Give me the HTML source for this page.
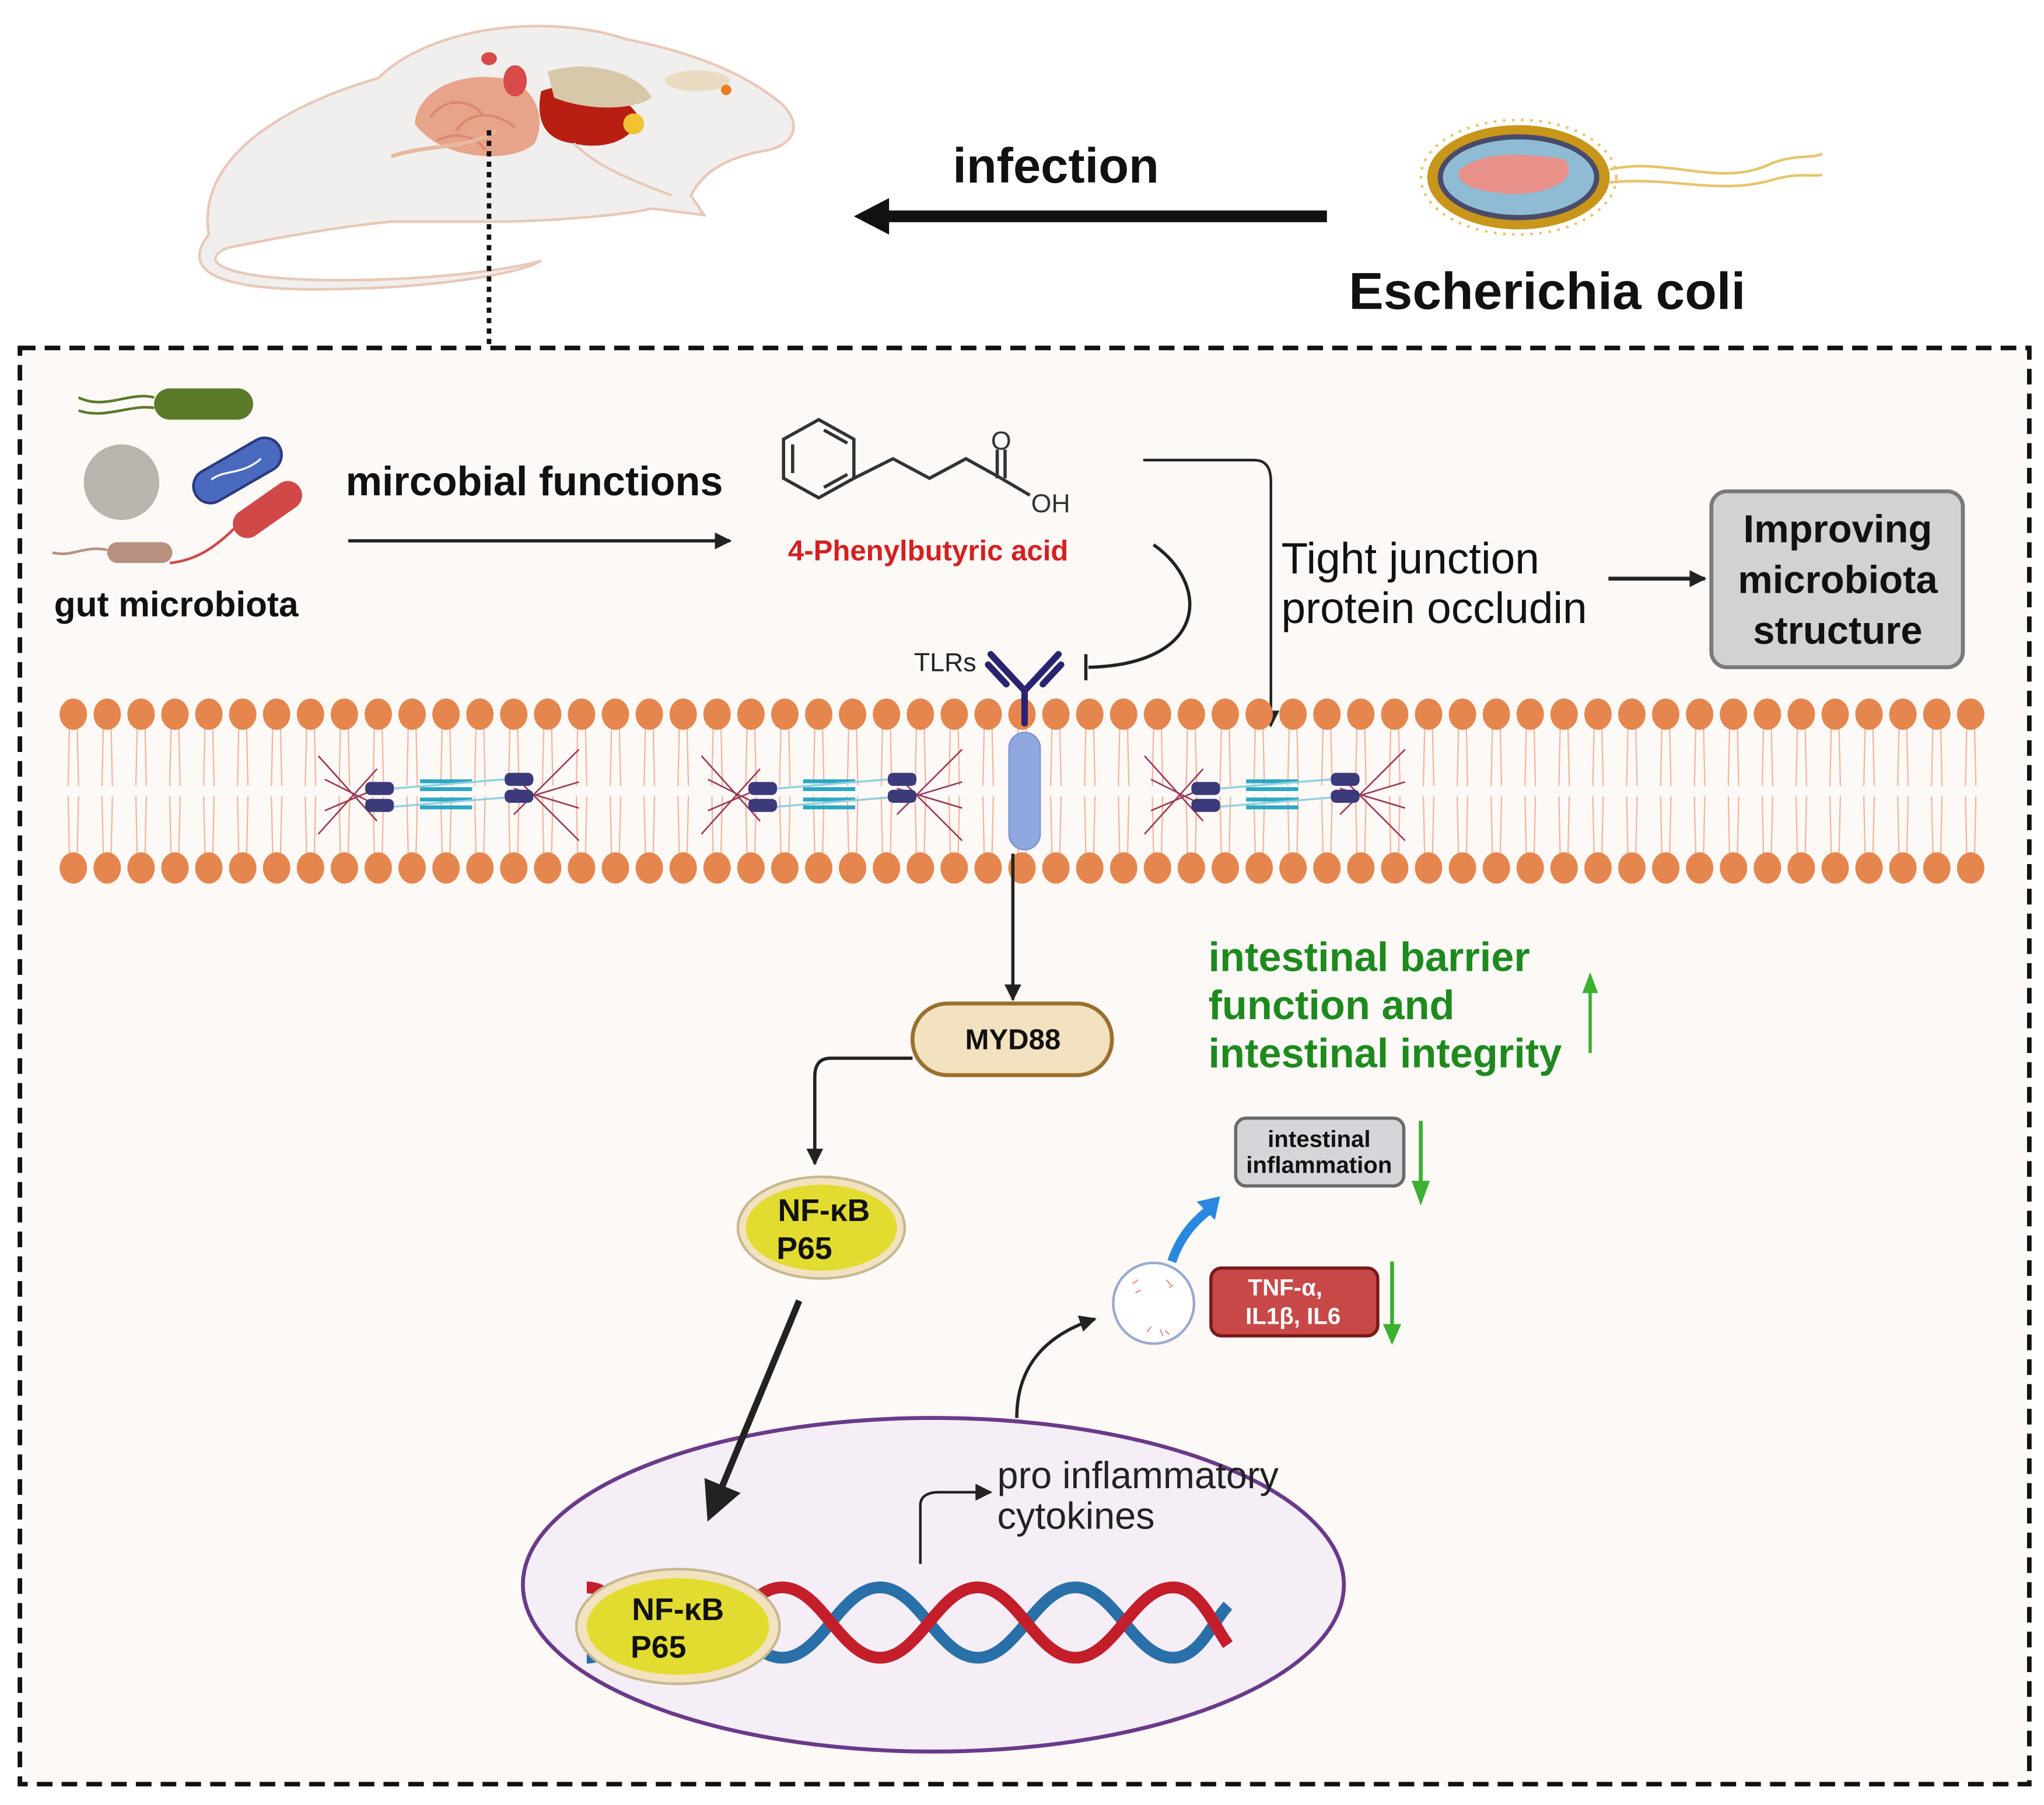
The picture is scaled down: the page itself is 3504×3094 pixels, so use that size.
<!DOCTYPE html>
<html><head><meta charset="utf-8"><style>
html,body{margin:0;padding:0;background:#fff}
svg{display:block}
text{font-family:"Liberation Sans",sans-serif}
</style></head><body>
<svg width="3504" height="3094" viewBox="0 0 1568 1385" xmlns="http://www.w3.org/2000/svg">
<defs>
<marker id="ah" viewBox="0 0 10 10" refX="9" refY="5" markerWidth="13" markerHeight="13" orient="auto" markerUnits="userSpaceOnUse"><path d="M0,0 L10,5 L0,10 z" fill="#222"/></marker>
<marker id="ahb" viewBox="0 0 10 10" refX="8" refY="5" markerWidth="30" markerHeight="30" orient="auto" markerUnits="userSpaceOnUse"><path d="M0,0 L10,5 L0,10 z" fill="#222"/></marker>
<g id="lip"><path d="M-3,10 L-4,55 M3,10 L4,55 M-4,63 L-3,108 M4,63 L3,108" stroke="#f2b59a" stroke-width="1" fill="none"/><ellipse cx="0" cy="0" rx="10.5" ry="12" fill="#e5864e"/><ellipse cx="0" cy="118" rx="10.5" ry="12" fill="#e5864e"/></g>
<g id="tj">
<g stroke="#9c3a5a" stroke-width="1.2"><line x1="0" y1="-30" x2="45" y2="20"/><line x1="0" y1="30" x2="45" y2="-20"/><line x1="5" y1="-12" x2="45" y2="8"/><line x1="5" y1="12" x2="45" y2="-5"/><line x1="200" y1="-35" x2="150" y2="15"/><line x1="200" y1="35" x2="150" y2="-15"/><line x1="200" y1="-10" x2="150" y2="5"/><line x1="200" y1="10" x2="150" y2="-5"/></g>
<rect x="36" y="-10" width="22" height="10" rx="4" fill="#3c3a7a"/><rect x="36" y="3" width="22" height="10" rx="4" fill="#3c3a7a"/>
<rect x="143" y="-17" width="22" height="10" rx="4" fill="#3c3a7a"/><rect x="143" y="-4" width="22" height="10" rx="4" fill="#3c3a7a"/>
<g fill="#2aa8c4"><rect x="78" y="-12" width="40" height="3"/><rect x="78" y="-6" width="40" height="3"/><rect x="78" y="2" width="40" height="3"/><rect x="78" y="8" width="40" height="3"/></g>
<g stroke="#8fd0e0" stroke-width="1.5"><line x1="58" y1="-5" x2="143" y2="-12"/><line x1="58" y1="9" x2="143" y2="2"/></g>
</g>
</defs>
<rect width="1568" height="1385" fill="#fff"/>
<g>
<path d="M160,180 C150,120 220,80 290,60 C330,20 420,10 480,30 C530,40 570,55 600,80 C615,95 610,110 590,115 C560,120 540,130 530,150 L540,165 L500,160 C480,165 420,170 380,170 L300,170 C250,175 200,185 175,190 C150,200 170,215 260,215 C340,215 400,205 415,200 C400,210 330,222 240,222 C160,222 140,205 160,180 z" fill="#f1efed" stroke="#e8c8b8" stroke-width="2"/>
<path d="M318,95 C320,70 350,55 385,60 C410,65 420,90 410,110 C395,125 340,125 318,95z" fill="#e8a48a"/>
<g stroke="#d88a70" stroke-width="2" fill="none"><path d="M330,90 C340,75 360,75 370,88 M350,100 C360,85 380,85 395,98 M335,108 C350,100 365,105 372,115"/></g>
<path d="M415,70 C440,60 480,70 490,90 C485,110 460,115 440,110 C420,108 410,95 415,70z" fill="#b81e12"/>
<path d="M420,55 C450,45 490,55 500,75 C485,85 450,85 425,75z" fill="#d6c8a8"/>
<ellipse cx="395" cy="62" rx="9" ry="12" fill="#d94a4a"/>
<ellipse cx="375" cy="45" rx="6" ry="5" fill="#d94a4a"/>
<circle cx="486" cy="95" r="8" fill="#f2c230"/>
<ellipse cx="535" cy="62" rx="25" ry="8" fill="#e9dcc2"/>
<circle cx="557" cy="69" r="4" fill="#f07a20"/>
<path d="M300,120 C330,110 360,115 380,100" stroke="#e8b8a0" stroke-width="3" fill="none"/>
<path d="M440,110 C460,130 490,140 515,150" stroke="#e8c8b8" stroke-width="2" fill="none"/>
</g>
<line x1="375" y1="100" x2="375" y2="267" stroke="#111" stroke-width="3.5" stroke-dasharray="4,4"/>
<text x="810" y="140" font-size="38" font-weight="bold" text-anchor="middle" fill="#111">infection</text>
<line x1="1018" y1="166" x2="680" y2="166" stroke="#111" stroke-width="9"/>
<path d="M655,166 L682,152 L682,180 z" fill="#111"/>
<g>
<path d="M1235,130 C1280,120 1320,145 1360,125 C1380,118 1390,122 1398,118" stroke="#e6c46a" stroke-width="2" fill="none"/>
<path d="M1235,140 C1280,135 1320,150 1360,138 C1380,132 1392,136 1398,134" stroke="#e6c46a" stroke-width="2" fill="none"/>
<ellipse cx="1165" cy="136" rx="75" ry="44" fill="none" stroke="#e6c46a" stroke-width="2" stroke-dasharray="2,5"/>
<ellipse cx="1165" cy="136" rx="70" ry="40" fill="#c8961a"/>
<ellipse cx="1165" cy="136" rx="62" ry="33" fill="#4a4a6a"/>
<ellipse cx="1165" cy="136" rx="58" ry="29" fill="#8fbcd4"/>
<path d="M1120,130 C1140,115 1170,118 1200,122 C1215,140 1180,152 1150,148 C1130,146 1115,140 1120,130z" fill="#e8908a"/>
</g>
<text x="1187" y="237" font-size="40" font-weight="bold" text-anchor="middle" fill="#111">Escherichia coli</text>
<rect x="15" y="267" width="1542" height="1102" fill="#fdf9f7" stroke="#111" stroke-width="3.5" stroke-dasharray="12,7"/>
<g>
<rect x="118" y="298" width="76" height="24" rx="12" fill="#5b7a2a"/>
<path d="M118,305 C100,300 80,315 60,305 M118,313 C100,310 80,322 60,315" stroke="#5b7a2a" stroke-width="2" fill="none"/>
<circle cx="93" cy="370" r="29" fill="#b8b5ae"/>
<rect x="145" y="348" width="74" height="26" rx="13" fill="#4a6ac0" stroke="#2a3a80" stroke-width="2" transform="rotate(-30 182 361)"/>
<path d="M162,368 C172,360 185,365 200,352" stroke="#fff" stroke-width="1.5" fill="none"/>
<rect x="175" y="380" width="60" height="22" rx="11" fill="#d04848" transform="rotate(-35 205 391)"/>
<path d="M180,405 C165,420 150,430 130,432" stroke="#d04848" stroke-width="2" fill="none"/>
<rect x="82" y="416" width="50" height="16" rx="8" fill="#b89080"/>
<path d="M82,422 C65,418 55,428 40,424" stroke="#b89080" stroke-width="2" fill="none"/>
</g>
<text x="135" y="473" font-size="27" font-weight="bold" text-anchor="middle" fill="#111">gut microbiota</text>
<text x="265" y="380" font-size="31.4" font-weight="bold" fill="#111">mircobial functions</text>
<line x1="267" y1="415" x2="560" y2="415" stroke="#222" stroke-width="2.5" marker-end="url(#ah)"/>
<g stroke="#333" stroke-width="2.5" fill="none">
<polygon points="628,322 655,337 655,367 628,382 601,367 601,337"/>
<line x1="608" y1="341" x2="608" y2="363" /><line x1="632" y1="330" x2="650" y2="340"/><line x1="632" y1="374" x2="650" y2="364"/>
<polyline points="655,367 685,352 713,367 741,352 768,367"/>
<line x1="765" y1="367" x2="765" y2="345"/><line x1="771" y1="367" x2="771" y2="345"/>
<line x1="768" y1="367" x2="790" y2="380"/>
</g>
<text x="768" y="345" font-size="20" text-anchor="middle" fill="#333">O</text>
<text x="806" y="393" font-size="20" text-anchor="middle" fill="#333">OH</text>
<text x="712" y="430" font-size="22" font-weight="bold" text-anchor="middle" fill="#d42020">4-Phenylbutyric acid</text>
<path d="M885,418 C930,450 925,510 835,512" stroke="#222" stroke-width="2.5" fill="none"/>
<line x1="833" y1="502" x2="833" y2="522" stroke="#222" stroke-width="2.5"/>
<path d="M877,353 L962,353 C972,353 975,360 975,370 L975,557" stroke="#222" stroke-width="2" fill="none" marker-end="url(#ah)"/>
<text x="983" y="440" font-size="33.5" fill="#111">Tight junction</text>
<text x="983" y="478" font-size="33.5" fill="#111">protein occludin</text>
<line x1="1234" y1="444" x2="1308" y2="444" stroke="#222" stroke-width="3" marker-end="url(#ah)"/>
<rect x="1313" y="377" width="193" height="135" rx="12" fill="#d2d2d4" stroke="#7a7a7a" stroke-width="3"/>
<text x="1410" y="416" font-size="30" font-weight="bold" text-anchor="middle" fill="#111">Improving</text>
<text x="1410" y="455" font-size="30" font-weight="bold" text-anchor="middle" fill="#111">microbiota</text>
<text x="1410" y="494" font-size="30" font-weight="bold" text-anchor="middle" fill="#111">structure</text>
<g id="mem">
<use href="#lip" x="56" y="548"/><use href="#lip" x="82" y="548"/><use href="#lip" x="108" y="548"/><use href="#lip" x="134" y="548"/><use href="#lip" x="160" y="548"/><use href="#lip" x="186" y="548"/><use href="#lip" x="212" y="548"/><use href="#lip" x="238" y="548"/><use href="#lip" x="264" y="548"/><use href="#lip" x="290" y="548"/><use href="#lip" x="316" y="548"/><use href="#lip" x="342" y="548"/><use href="#lip" x="368" y="548"/><use href="#lip" x="394" y="548"/><use href="#lip" x="420" y="548"/><use href="#lip" x="446" y="548"/><use href="#lip" x="472" y="548"/><use href="#lip" x="498" y="548"/><use href="#lip" x="524" y="548"/><use href="#lip" x="550" y="548"/><use href="#lip" x="576" y="548"/><use href="#lip" x="602" y="548"/><use href="#lip" x="628" y="548"/><use href="#lip" x="654" y="548"/><use href="#lip" x="680" y="548"/><use href="#lip" x="706" y="548"/><use href="#lip" x="732" y="548"/><use href="#lip" x="758" y="548"/><use href="#lip" x="784" y="548"/><use href="#lip" x="810" y="548"/><use href="#lip" x="836" y="548"/><use href="#lip" x="862" y="548"/><use href="#lip" x="888" y="548"/><use href="#lip" x="914" y="548"/><use href="#lip" x="940" y="548"/><use href="#lip" x="966" y="548"/><use href="#lip" x="992" y="548"/><use href="#lip" x="1018" y="548"/><use href="#lip" x="1044" y="548"/><use href="#lip" x="1070" y="548"/><use href="#lip" x="1096" y="548"/><use href="#lip" x="1122" y="548"/><use href="#lip" x="1148" y="548"/><use href="#lip" x="1174" y="548"/><use href="#lip" x="1200" y="548"/><use href="#lip" x="1226" y="548"/><use href="#lip" x="1252" y="548"/><use href="#lip" x="1278" y="548"/><use href="#lip" x="1304" y="548"/><use href="#lip" x="1330" y="548"/><use href="#lip" x="1356" y="548"/><use href="#lip" x="1382" y="548"/><use href="#lip" x="1408" y="548"/><use href="#lip" x="1434" y="548"/><use href="#lip" x="1460" y="548"/><use href="#lip" x="1486" y="548"/><use href="#lip" x="1512" y="548"/>
</g>
<use href="#tj" x="244" y="610"/>
<use href="#tj" x="538" y="610"/>
<use href="#tj" x="878" y="610"/>
<rect x="774" y="562" width="24" height="90" rx="12" fill="#8fa8e0" stroke="#7a90d0" stroke-width="1"/>
<g stroke="#2a2470" stroke-width="5" fill="none" stroke-linecap="round">
<line x1="786" y1="555" x2="786" y2="530"/><line x1="786" y1="530" x2="760" y2="502"/><line x1="786" y1="530" x2="812" y2="502"/>
<line x1="772" y1="525" x2="758" y2="510"/><line x1="800" y1="525" x2="814" y2="510"/>
</g>
<text x="725" y="515" font-size="20" text-anchor="middle" fill="#222">TLRs</text>
<line x1="777" y1="655" x2="777" y2="767" stroke="#222" stroke-width="2.5" marker-end="url(#ah)"/>
<rect x="700" y="770" width="153" height="55" rx="27" fill="#f2e2c0" stroke="#9a7030" stroke-width="3"/>
<text x="777" y="805" font-size="22" font-weight="bold" text-anchor="middle" fill="#111">MYD88</text>
<path d="M700,812 L637,812 C628,812 625,818 625,826 L625,893" stroke="#222" stroke-width="2.5" fill="none" marker-end="url(#ah)"/>
<ellipse cx="630" cy="942" rx="64" ry="39" fill="#f2e2c0" stroke="#c8b890" stroke-width="2"/>
<ellipse cx="630" cy="942" rx="58" ry="33" fill="#e2dc30"/>
<text x="632" y="937" font-size="24" font-weight="bold" text-anchor="middle" fill="#111">NF-κB</text>
<text x="617" y="966" font-size="24" font-weight="bold" text-anchor="middle" fill="#111">P65</text>
<text x="927" y="745" font-size="31.5" font-weight="bold" fill="#1e8a1e">intestinal barrier</text>
<text x="927" y="782" font-size="31.5" font-weight="bold" fill="#1e8a1e">function and</text>
<text x="927" y="819" font-size="31.5" font-weight="bold" fill="#1e8a1e">intestinal integrity</text>
<line x1="1220" y1="808" x2="1220" y2="758" stroke="#3cb030" stroke-width="2.5"/>
<path d="M1214,762 L1220,746 L1226,762z" fill="#3cb030"/>
<rect x="948" y="858" width="129" height="52" rx="8" fill="#d4d6da" stroke="#6a6a6a" stroke-width="2.5"/>
<text x="1012" y="880" font-size="18" font-weight="bold" text-anchor="middle" fill="#111">intestinal</text>
<text x="1012" y="900" font-size="18" font-weight="bold" text-anchor="middle" fill="#111">inflammation</text>
<line x1="1090" y1="860" x2="1090" y2="910" stroke="#3cb030" stroke-width="3"/>
<path d="M1083,906 L1090,925 L1097,906z" fill="#3cb030"/>
<rect x="929" y="973" width="128" height="52" rx="8" fill="#c84848" stroke="#7a1a1a" stroke-width="2.5"/>
<text x="986" y="994" font-size="18" font-weight="bold" text-anchor="middle" fill="#fff">TNF-α,</text>
<text x="992" y="1016" font-size="18" font-weight="bold" text-anchor="middle" fill="#fff">IL1β,  IL6</text>
<line x1="1068" y1="968" x2="1068" y2="1020" stroke="#3cb030" stroke-width="3"/>
<path d="M1061,1016 L1068,1032 L1075,1016z" fill="#3cb030"/>
<circle cx="885" cy="1000" r="31" fill="#fff" stroke="#9aaad0" stroke-width="2"/>
<g stroke="#e89080" stroke-width="1"><path d="M869,985 l4,-3 M875,990 l-4,2 M895,982 l3,4 M900,986 l-3,2 M880,1022 l3,-4 M890,1020 l2,5 M897,1024 l-3,-3"/></g>
<path d="M899,968 C905,950 915,938 928,928" stroke="#2a88e0" stroke-width="7" fill="none"/>
<path d="M918,922 L936,918 L932,936z" fill="#2a88e0"/>
<path d="M780,1088 C780,1050 800,1025 840,1012" stroke="#222" stroke-width="2.5" fill="none" marker-end="url(#ah)"/>
<ellipse cx="716" cy="1216" rx="315" ry="128" fill="#f5eef7" stroke="#6a3a8a" stroke-width="3"/>
<line x1="613" y1="998" x2="545" y2="1162" stroke="#222" stroke-width="5" marker-end="url(#ahb)"/>
<path d="M706,1200 L706,1155 C706,1148 712,1145 720,1145 L760,1145" stroke="#222" stroke-width="2" fill="none" marker-end="url(#ah)"/>
<text x="765" y="1142" font-size="29" fill="#222">pro inflammatory</text>
<text x="765" y="1173" font-size="29" fill="#222">cytokines</text>
<path d="M450,1272 C480,1272 495,1218 525,1218 C555,1218 570,1272 600,1272 C630,1272 645,1218 675,1218 C705,1218 720,1272 750,1272 C780,1272 795,1218 825,1218 C855,1218 870,1272 900,1272 C920,1272 930,1245 942,1232" stroke="#2a70a8" stroke-width="9" fill="none"/>
<path d="M450,1218 C480,1218 495,1272 525,1272 C555,1272 570,1218 600,1218 C630,1218 645,1272 675,1272 C705,1272 720,1218 750,1218 C780,1218 795,1272 825,1272 C855,1272 870,1218 900,1218 C920,1218 930,1245 942,1262" stroke="#c41e2a" stroke-width="9" fill="none"/>
<ellipse cx="520" cy="1248" rx="78" ry="44" fill="#f2e2c0" stroke="#c8b890" stroke-width="2"/>
<ellipse cx="520" cy="1248" rx="70" ry="37" fill="#e2dc30"/>
<text x="520" y="1243" font-size="24" font-weight="bold" text-anchor="middle" fill="#111">NF-κB</text>
<text x="505" y="1272" font-size="24" font-weight="bold" text-anchor="middle" fill="#111">P65</text>
</svg>
</body></html>
